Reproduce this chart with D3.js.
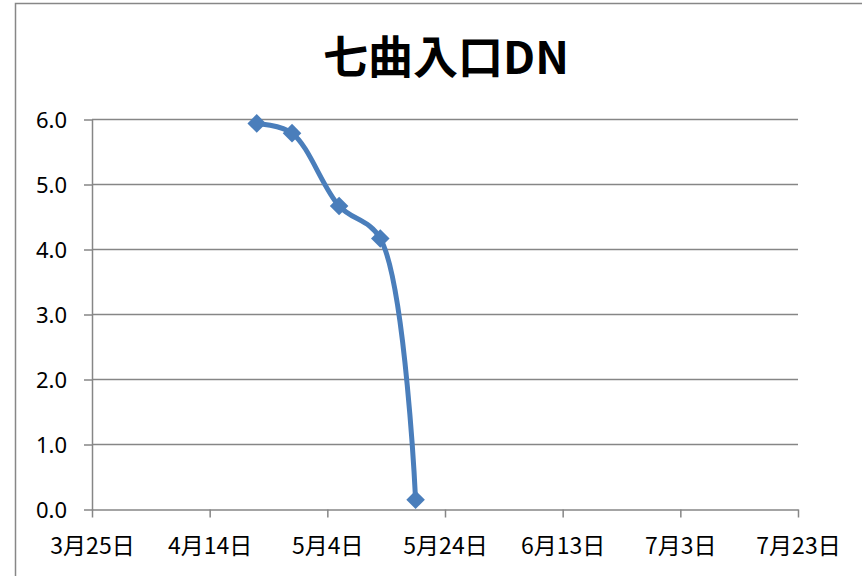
<!DOCTYPE html>
<html>
<head>
<meta charset="utf-8">
<script src="https://cdn.jsdelivr.net/npm/d3@7"></script>
<style>
  body { margin: 0; background: #fff; }
  text { font-family: "Noto Sans CJK JP", "Noto Sans", sans-serif; fill: #000; }
</style>
</head>
<body>
<div id="chart"></div>
<script>
var dates = ["2014-04-22", "2014-04-28", "2014-05-06", "2014-05-13", "2014-05-19"];
var values = [5.94, 5.79, 4.67, 4.17, 0.15];
var xTicks = ["2014-03-25", "2014-04-14", "2014-05-04", "2014-05-24", "2014-06-13", "2014-07-03", "2014-07-23"];
var yTicks = [0, 1, 2, 3, 4, 5, 6];

var parse = d3.timeParse("%Y-%m-%d");
var data = dates.map(function (d, i) { return { date: parse(d), value: values[i] }; });

var svgWidth = 862, svgHeight = 576;
var plotLeft = 92, plotRight = 798, plotTop = 119.5, plotBottom = 509.5;

var svg = d3.select("#chart").append("svg")
    .attr("width", svgWidth)
    .attr("height", svgHeight);

// chart frame
svg.append("rect")
    .attr("x", 15.5).attr("y", 3.5)
    .attr("width", 900).attr("height", 700)
    .attr("fill", "none")
    .attr("stroke", "#878787")
    .attr("stroke-width", 1.5);

var xScale = d3.scaleTime()
    .domain([parse(xTicks[0]), parse(xTicks[xTicks.length - 1])])
    .range([plotLeft, plotRight]);

var yScale = d3.scaleLinear()
    .domain([0, 6])
    .range([plotBottom, plotTop]);

// gridlines
svg.selectAll(".grid")
    .data(yTicks.slice(1))
    .enter()
    .append("line")
    .attr("x1", plotLeft).attr("x2", plotRight)
    .attr("y1", function (d) { return yScale(d); })
    .attr("y2", function (d) { return yScale(d); })
    .attr("stroke", "#868686")
    .attr("stroke-width", 1.5);

var yAxis = svg.append("g")
    .attr("transform", "translate(" + plotLeft + ",0)")
    .call(d3.axisLeft(yScale).tickValues(yTicks).tickSize(8).tickSizeOuter(0)
        .tickFormat(d3.format(".1f")));
yAxis.select(".domain").attr("stroke", "#868686").attr("stroke-width", 1.5);
yAxis.selectAll(".tick line").attr("stroke", "#868686").attr("stroke-width", 1.5);
yAxis.selectAll(".tick text")
    .attr("x", -25).attr("dy", "0.35em")
    .style("font-family", "'Noto Sans', sans-serif")
    .style("font-size", "22px");

var xAxis = svg.append("g")
    .attr("transform", "translate(0," + plotBottom + ")")
    .call(d3.axisBottom(xScale).tickValues(xTicks.map(parse)).tickSize(8).tickSizeOuter(0)
        .tickFormat(function (d) { return (d.getMonth() + 1) + "月" + d.getDate() + "日"; }));
xAxis.select(".domain").attr("stroke", "#868686").attr("stroke-width", 1.5);
xAxis.selectAll(".tick line").attr("stroke", "#868686").attr("stroke-width", 1.5);
xAxis.selectAll(".tick text")
    .attr("y", 36).attr("dy", "0.35em")
    .style("font-size", "23px");

var line = d3.line()
    .x(function (d) { return xScale(d.date); })
    .y(function (d) { return yScale(d.value); })
    .curve(d3.curveCatmullRom.alpha(0.5));

svg.append("path")
    .datum(data)
    .attr("d", line)
    .attr("fill", "none")
    .attr("stroke", "#4a7ebb")
    .attr("stroke-width", 5);

svg.selectAll(".marker")
    .data(data)
    .enter()
    .append("path")
    .attr("class", "marker")
    .attr("d", d3.symbol().type(d3.symbolDiamond2).size(220))
    .attr("transform", function (d) {
        return "translate(" + xScale(d.date) + "," + yScale(d.value) + ")";
    })
    .attr("fill", "#4a7ebb");

svg.append("text")
    .attr("x", 446).attr("y", 74)
    .attr("text-anchor", "middle")
    .style("font-size", "45px")
    .style("font-weight", "bold")
    .text("七曲入口DN");
</script>
</body>
</html>
